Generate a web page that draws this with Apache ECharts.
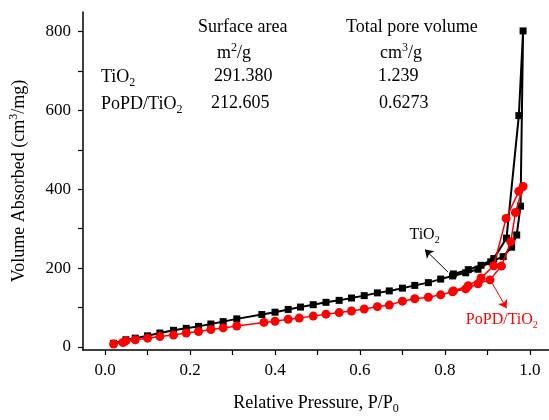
<!DOCTYPE html>
<html>
<head>
<meta charset="utf-8">
<script src="https://cdn.jsdelivr.net/npm/echarts@6/dist/echarts.min.js"></script>
<style>
  html, body { margin: 0; padding: 0; background: #fff; }
  #main { width: 549px; height: 420px; }
</style>
</head>
<body>
<div id="main"></div>
<script>
// N2 isotherms, [P/P0, volume]
const tio2Ads = [
  [0.02, 9], [0.049, 18], [0.071, 22], [0.10, 28], [0.129, 35], [0.161, 42],
  [0.191, 47], [0.22, 52], [0.249, 58], [0.278, 64], [0.31, 71], [0.369, 82],
  [0.40, 88], [0.431, 95], [0.46, 101], [0.49, 107], [0.52, 113], [0.551, 118],
  [0.58, 124], [0.61, 130], [0.641, 137], [0.669, 142], [0.70, 149], [0.729, 156],
  [0.761, 163], [0.79, 172], [0.818, 180], [0.849, 188], [0.878, 197], [0.908, 216],
  [0.937, 229], [0.957, 253], [0.969, 284], [0.978, 357], [0.984, 802]
]
const tio2Des = [
  [0.974, 587], [0.945, 276], [0.915, 224], [0.885, 207], [0.855, 196], [0.82, 185]
]
const popdAds = [
  [0.02, 7], [0.042, 11], [0.049, 15], [0.071, 18], [0.10, 22], [0.129, 26],
  [0.161, 30], [0.191, 35], [0.22, 39], [0.249, 44], [0.278, 48], [0.31, 53],
  [0.374, 62], [0.40, 65], [0.431, 70], [0.457, 73], [0.49, 78], [0.52, 83],
  [0.551, 87], [0.58, 91], [0.61, 96], [0.641, 102], [0.669, 106], [0.70, 116],
  [0.729, 122], [0.761, 126], [0.79, 132], [0.818, 140], [0.849, 147], [0.878, 160],
  [0.906, 170], [0.933, 205], [0.955, 267], [0.966, 341], [0.984, 407]
]
const popdDes = [
  [0.974, 395], [0.944, 326], [0.915, 206], [0.885, 175], [0.855, 155], [0.82, 142]
]
const xTicks = [0, 0.1, 0.2, 0.3, 0.4, 0.5, 0.6, 0.7, 0.8, 0.9, 1.0]
const xLabels = [0, 0.2, 0.4, 0.6, 0.8, 1.0]
const yTicks = [0, 100, 200, 300, 400, 500, 600, 700, 800]
const yLabels = [0, 200, 400, 600, 800]

const FONT = 'Liberation Serif'
// super/subscript styles for rich text
const scriptRich = (size) => ({
  b: { fontFamily: FONT, fontSize: size, lineHeight: size + 5, verticalAlign: 'middle' },
  sup: { fontFamily: FONT, fontSize: Math.round(size * 0.65), lineHeight: 12, verticalAlign: 'top' },
  sub: { fontFamily: FONT, fontSize: Math.round(size * 0.65), lineHeight: 12, verticalAlign: 'bottom' },
})

const tableText = (text, x, y) => ({
  type: 'text',
  x: x,
  y: y,
  style: {
    text: text,
    fill: '#000',
    fontFamily: FONT,
    fontSize: 18,
    verticalAlign: 'middle',
    rich: scriptRich(18),
  },
})

const chart = echarts.init(document.getElementById('main'), null, { renderer: 'canvas' })

chart.setOption({
  animation: false,
  backgroundColor: '#fff',
  grid: { left: 83, right: 0, top: 12, bottom: 62 },
  xAxis: {
    type: 'value',
    min: -0.052,
    max: 1.045,
    name: '{b|Relative Pressure, P/P}{sub|0}',
    nameLocation: 'middle',
    nameGap: 42,
    nameTextStyle: { color: '#000', rich: scriptRich(18) },
    splitLine: { show: false },
    axisLine: { onZero: false, lineStyle: { color: '#000', width: 1.5 } },
    axisTick: { customValues: xTicks, length: 5, lineStyle: { color: '#000', width: 1.2 } },
    axisLabel: {
      customValues: xLabels,
      formatter: (v) => v.toFixed(1),
      fontFamily: FONT,
      fontSize: 17,
      color: '#000',
      margin: 12,
    },
  },
  yAxis: {
    type: 'value',
    min: -8,
    max: 850,
    name: '{b|Volume Absorbed (cm}{sup|3}{b|/mg)}',
    nameLocation: 'middle',
    nameGap: 52,
    nameTextStyle: { color: '#000', rich: scriptRich(18) },
    splitLine: { show: false },
    axisLine: { show: true, onZero: false, lineStyle: { color: '#000', width: 1.5 } },
    axisTick: { show: true, customValues: yTicks, length: 5, lineStyle: { color: '#000', width: 1.2 } },
    axisLabel: {
      customValues: yLabels,
      fontFamily: FONT,
      fontSize: 17,
      color: '#000',
      margin: 12,
    },
  },
  graphic: [
    tableText('Surface area', 198, 27),
    tableText('Total pore volume', 346, 27),
    tableText('{b|m}{sup|2}{b|/g}', 217, 53),
    tableText('{b|cm}{sup|3}{b|/g}', 380, 53),
    tableText('{b|TiO}{sub|2}', 101, 77),
    tableText('291.380', 214, 76),
    tableText('1.239', 378, 76),
    tableText('{b|PoPD/TiO}{sub|2}', 101, 104),
    tableText('212.605', 211, 103),
    tableText('0.6273', 379, 103),
  ],
  series: [
    {
      name: 'TiO2',
      type: 'line',
      data: tio2Ads.concat(tio2Des),
      symbol: 'rect',
      symbolSize: 7,
      itemStyle: { color: '#000' },
      lineStyle: { color: '#000', width: 2 },
      z: 2,
      markLine: {
        silent: true,
        symbol: ['none', 'arrow'],
        symbolSize: 8,
        label: { show: false },
        lineStyle: { color: '#000', width: 1, type: 'solid' },
        data: [[{ coord: [0.807, 190] }, { coord: [0.753, 247] }]],
      },
      markPoint: {
        silent: true,
        symbolSize: 0,
        data: [{
          coord: [0.752, 284],
          label: {
            show: true,
            position: 'inside',
            formatter: '{b|TiO}{sub|2}',
            color: '#000',
            rich: scriptRich(16),
          },
        }],
      },
    },
    {
      name: 'PoPD/TiO2',
      type: 'line',
      data: popdAds.concat(popdDes),
      symbol: 'circle',
      symbolSize: 9,
      itemStyle: { color: '#ff0000' },
      lineStyle: { color: '#ff0000', width: 1.5 },
      z: 3,
      markLine: {
        silent: true,
        symbol: ['none', 'arrow'],
        symbolSize: 8,
        label: { show: false },
        lineStyle: { color: '#ff0000', width: 1, type: 'solid' },
        data: [[{ coord: [0.91, 164] }, { coord: [0.945, 98] }]],
      },
      markPoint: {
        silent: true,
        symbolSize: 0,
        data: [{
          coord: [0.934, 68],
          label: {
            show: true,
            position: 'inside',
            formatter: '{b|PoPD/TiO}{sub|2}',
            color: '#ff0000',
            rich: scriptRich(16),
          },
        }],
      },
    },
  ],
})
</script>
</body>
</html>
